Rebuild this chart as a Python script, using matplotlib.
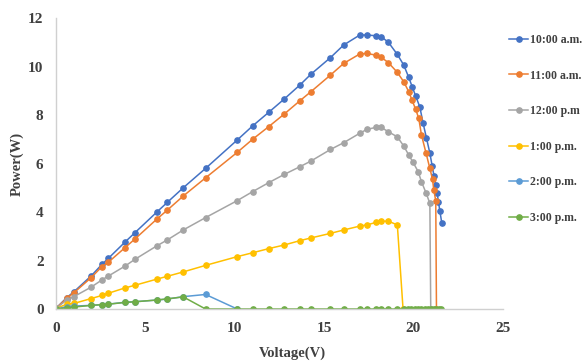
import matplotlib
matplotlib.use("Agg")
import matplotlib.pyplot as plt

# voltage (V) / power (W) readings for each hour
volt_10am = [0, 0.6, 1.0, 1.96, 2.57, 2.93, 3.86, 4.42, 5.63, 6.23, 7.12, 8.37, 10.14, 11.0, 11.9,
             12.77, 13.65, 14.26, 15.36, 16.1, 17.0, 17.4, 17.9, 18.2, 18.6, 19.1, 19.46, 19.74, 19.93,
             20.13, 20.36, 20.54, 20.73, 20.92, 21.05, 21.15, 21.25, 21.33, 21.4, 21.48, 21.59]
power_10am = [0.03, 0.47, 0.71, 1.36, 1.84, 2.09, 2.76, 3.15, 3.99, 4.4, 5.0, 5.8, 6.97, 7.55, 8.11,
              8.66, 9.24, 9.68, 10.37, 10.89, 11.3, 11.3, 11.27, 11.23, 11.0, 10.5, 10.06, 9.55, 9.17,
              8.78, 8.33, 7.67, 7.05, 6.43, 5.9, 5.5, 5.1, 4.77, 4.42, 4.05, 3.53]

volt_11am = [0, 0.6, 1.0, 1.96, 2.57, 2.93, 3.86, 4.42, 5.63, 6.23, 7.12, 8.37, 10.14, 11.0, 11.9,
             12.77, 13.65, 14.26, 15.36, 16.1, 17.0, 17.4, 17.9, 18.2, 18.6, 19.1, 19.46, 19.74, 19.93,
             20.13, 20.3, 20.45, 20.7, 20.92, 21.07, 21.14, 21.25, 21.29]
power_11am = [0.03, 0.44, 0.67, 1.29, 1.75, 1.93, 2.53, 2.89, 3.7, 4.08, 4.66, 5.41, 6.46, 7.0, 7.52,
              8.04, 8.59, 8.96, 9.65, 10.13, 10.52, 10.54, 10.47, 10.38, 10.16, 9.76, 9.37, 8.96, 8.6,
              8.23, 7.86, 7.18, 6.45, 5.8, 5.35, 4.91, 4.47, 0]

volt_12pm = [0, 0.6, 1.0, 1.96, 2.57, 2.93, 3.86, 4.42, 5.63, 6.23, 7.12, 8.37, 10.14, 11.0, 11.9,
             12.77, 13.65, 14.26, 15.36, 16.1, 17.0, 17.4, 17.9, 18.2, 18.6, 19.1, 19.46, 19.74, 19.98,
             20.27, 20.45, 20.7, 20.92, 20.97]
power_12pm = [0.03, 0.37, 0.51, 0.9, 1.2, 1.36, 1.77, 2.05, 2.6, 2.85, 3.26, 3.77, 4.47, 4.84, 5.21,
              5.55, 5.87, 6.1, 6.58, 6.86, 7.25, 7.41, 7.49, 7.49, 7.31, 7.1, 6.72, 6.35, 6.05,
              5.66, 5.25, 4.8, 4.36, 0]

volt_1pm = [0, 0.6, 1.0, 1.96, 2.57, 2.93, 3.86, 4.42, 5.63, 6.23, 7.12, 8.37, 10.14, 11.0, 11.9,
            12.77, 13.65, 14.26, 15.36, 16.1, 17.0, 17.4, 17.9, 18.2, 18.6, 19.1, 19.42]
power_1pm = [0.02, 0.2, 0.23, 0.43, 0.56, 0.65, 0.87, 0.98, 1.23, 1.35, 1.53, 1.8, 2.16, 2.32, 2.49,
             2.64, 2.82, 2.93, 3.12, 3.26, 3.42, 3.47, 3.57, 3.62, 3.62, 3.47, 0]

volt_2pm = [0, 0.6, 1.0, 1.96, 2.57, 2.93, 3.86, 4.42, 5.63, 6.23, 7.12, 8.37, 10.14]
power_2pm = [0, 0.1, 0.12, 0.15, 0.18, 0.2, 0.28, 0.3, 0.37, 0.41, 0.51, 0.6, 0]

volt_3pm = [0, 0.6, 1.0, 1.96, 2.57, 2.93, 3.86, 4.42, 5.63, 6.23, 7.12, 8.37, 10.14, 11.0, 11.9,
            12.77, 13.65, 14.26, 15.36, 16.1, 17.0, 17.4, 17.9, 18.2, 18.6, 19.1, 19.46, 19.7, 19.89,
            20.08, 20.26, 20.45, 20.64, 20.82, 21.01, 21.14, 21.29, 21.44, 21.57]
power_3pm = [0, 0.05, 0.08, 0.15, 0.18, 0.2, 0.27, 0.3, 0.37, 0.42, 0.5, 0, 0, 0, 0,
             0, 0, 0, 0, 0, 0, 0, 0, 0, 0, 0, 0, 0, 0,
             0, 0, 0, 0, 0, 0, 0, 0, 0, 0]

labels = ["10:00 a.m.", "11:00 a.m.", "12:00 p.m", "1:00 p.m.", "2:00 p.m.", "3:00 p.m."]
colors = ["#4472C4", "#ED7D31", "#A5A5A5", "#FFC000", "#5B9BD5", "#70AD47"]
series = [(volt_10am, power_10am), (volt_11am, power_11am), (volt_12pm, power_12pm),
          (volt_1pm, power_1pm), (volt_2pm, power_2pm), (volt_3pm, power_3pm)]

plt.rcParams["font.family"] = "Liberation Serif"
plt.rcParams["font.weight"] = "bold"

fig = plt.figure(figsize=(5.84, 3.61), dpi=100)
ax = fig.add_axes([0.0959, 0.144, 0.765, 0.806])

for (v, p), lab, col in zip(series, labels, colors):
    ax.plot(v, p, color=col, lw=1.1, marker="o", ms=3.8, label=lab)

ax.set_xlim(0, 25)
ax.set_ylim(0, 12)
ax.set_xticks([0, 5, 10, 15, 20, 25])
ax.set_yticks([0, 2, 4, 6, 8, 10, 12])
ax.tick_params(length=0, labelsize=11, colors="#404040", pad=9)
for s in ["top", "right"]:
    ax.spines[s].set_visible(False)
for s in ["left", "bottom"]:
    ax.spines[s].set_color("#d0d0d0")
    ax.spines[s].set_linewidth(1.0)
ax.set_xlabel("Voltage(V)", fontsize=10.5, fontweight="bold", color="#404040")
ax.set_ylabel("Power(W)", fontsize=10.5, fontweight="bold", color="#404040", labelpad=3)
ax.xaxis.set_label_coords(0.53, -0.13)

leg = fig.legend(loc="upper left", bbox_to_anchor=(0.872, 0.906), frameon=False,
                 fontsize=8.5, handlelength=1.6, handletextpad=0.15, labelspacing=2.0,
                 borderpad=0, borderaxespad=0)
for t in leg.get_texts():
    t.set_color("#404040")

fig.savefig("out.png", dpi=100)
